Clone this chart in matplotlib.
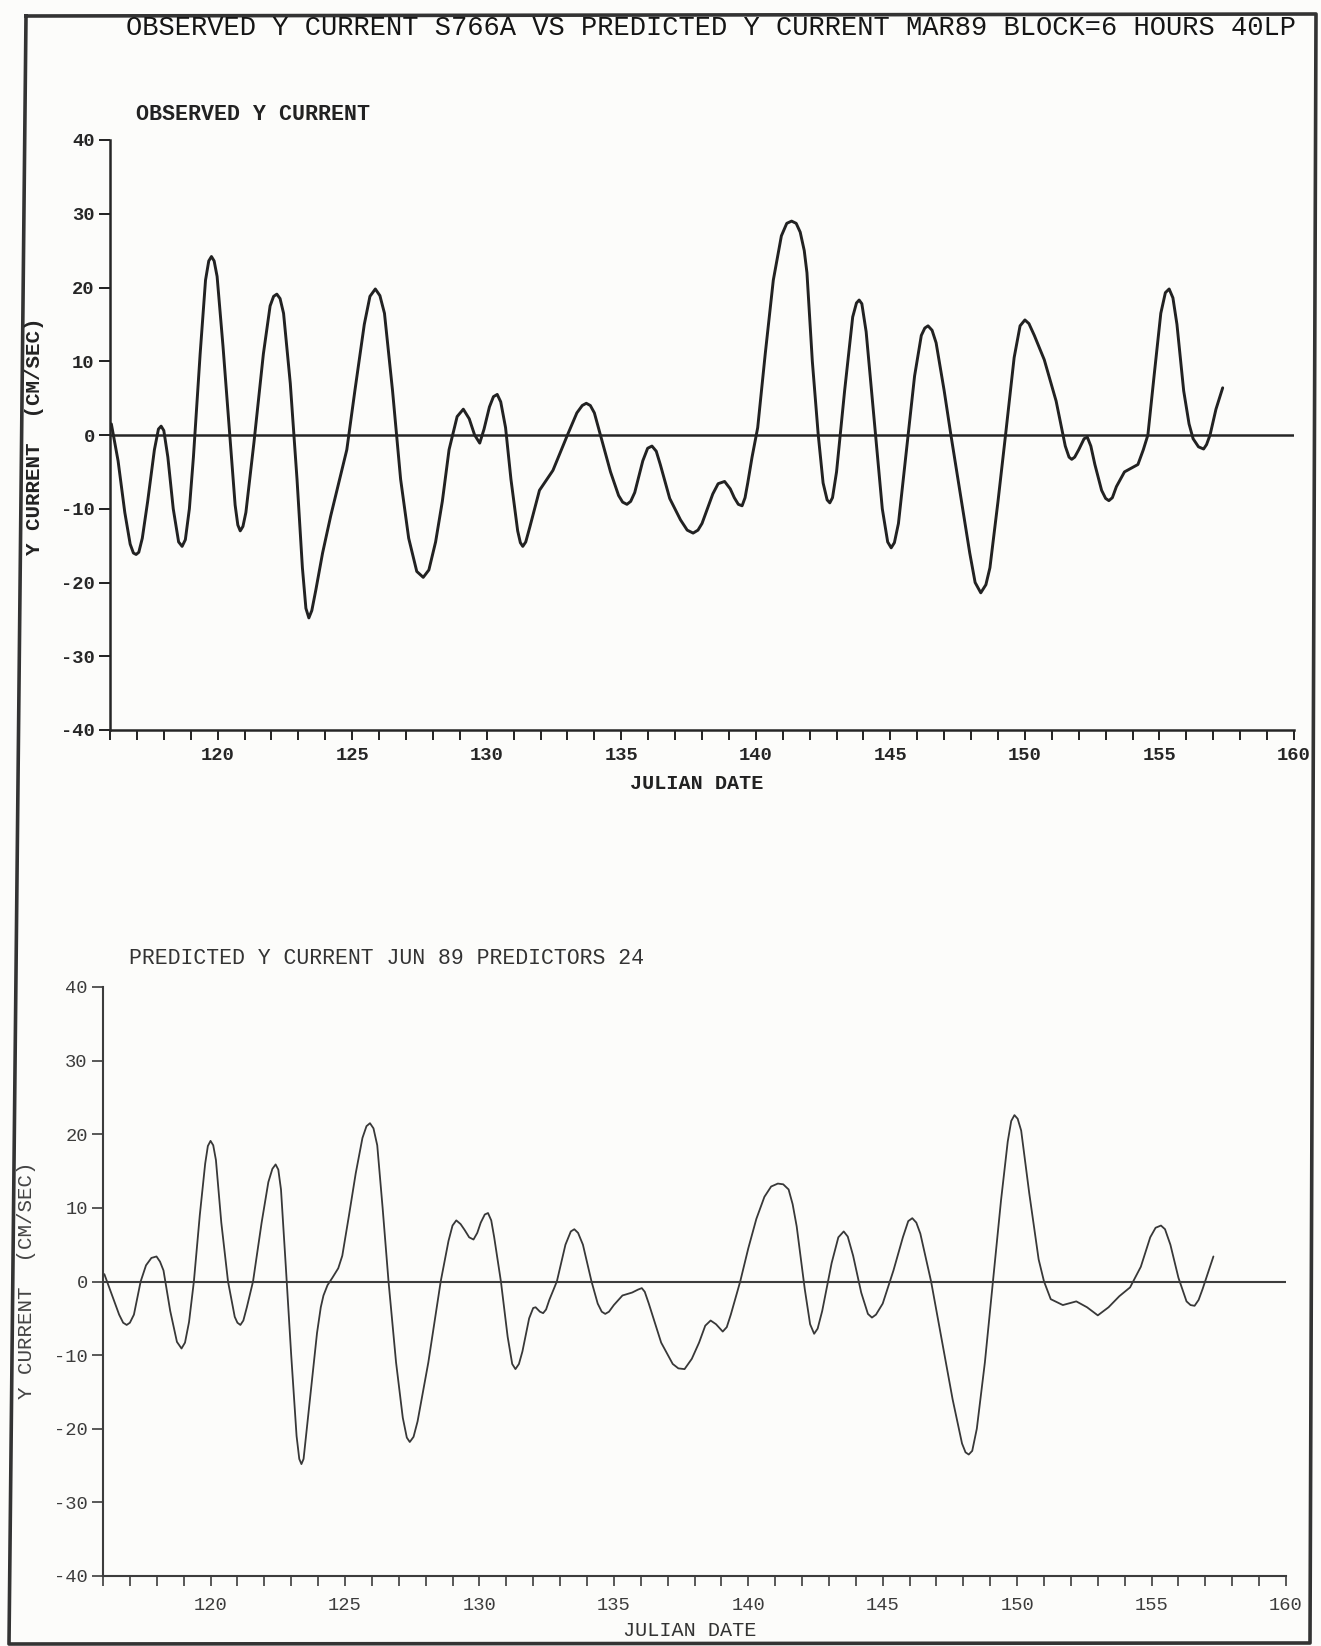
import matplotlib
matplotlib.use("Agg")
import matplotlib.pyplot as plt
from matplotlib.ticker import MultipleLocator, FuncFormatter
from matplotlib.lines import Line2D

plt.rcParams["font.family"] = ["Liberation Mono", "DejaVu Sans Mono"]
plt.rcParams["axes.unicode_minus"] = False

# Observed Y current (cm/s) vs Julian date
obs_day = [
    116.05, 116.3, 116.55, 116.75, 116.87, 116.97, 117.07, 117.2, 117.4, 117.65,
    117.8, 117.9, 118.0, 118.15, 118.35, 118.55, 118.68, 118.8, 118.95, 119.1,
    119.35, 119.55, 119.67, 119.77, 119.87, 119.98, 120.2, 120.45, 120.65, 120.75,
    120.84, 120.94, 121.05, 121.35, 121.7, 121.95, 122.08, 122.2, 122.32, 122.45,
    122.7, 122.95, 123.15, 123.28, 123.39, 123.5, 123.65, 123.9, 124.2, 124.5,
    124.8, 125.1, 125.45, 125.66, 125.86, 126.03, 126.2, 126.5, 126.8, 127.1,
    127.4, 127.64, 127.85, 128.1, 128.35, 128.6, 128.9, 129.13, 129.35, 129.55,
    129.74, 129.9, 130.1, 130.25, 130.39, 130.52, 130.7, 130.9, 131.15, 131.25,
    131.34, 131.45, 131.6, 131.96, 132.46, 133.0, 133.35, 133.55, 133.7, 133.85,
    134.0, 134.3, 134.6, 134.9, 135.05, 135.21, 135.35, 135.5, 135.8, 135.98,
    136.14, 136.3, 136.45, 136.8, 137.2, 137.45, 137.67, 137.85, 138.0, 138.2,
    138.4, 138.6, 138.84, 139.05, 139.2, 139.35, 139.49, 139.6, 139.7, 139.86,
    140.07, 140.35, 140.65, 140.95, 141.15, 141.33, 141.5, 141.65, 141.8, 141.9,
    142.1, 142.32, 142.5, 142.65, 142.75, 142.85, 143.0, 143.3, 143.6, 143.74,
    143.84, 143.94, 144.1, 144.4, 144.7, 144.9, 145.03, 145.15, 145.3, 145.6,
    145.9, 146.15, 146.28, 146.4, 146.55, 146.7, 147.0, 147.25, 147.6, 147.95,
    148.15, 148.36, 148.55, 148.7, 149.0, 149.28, 149.6, 149.82, 150.0, 150.15,
    150.35, 150.72, 151.16, 151.5, 151.64, 151.74, 151.85, 152.0, 152.2, 152.32,
    152.45, 152.6, 152.85, 153.0, 153.12, 153.25, 153.4, 153.7, 154.2, 154.4,
    154.57, 154.8, 155.05, 155.22, 155.36, 155.5, 155.65, 155.9, 156.1, 156.25,
    156.45, 156.64, 156.75, 156.88, 157.1, 157.35,
]
obs_val = [
    1.5, -3.5, -10.5, -14.8, -16.0, -16.2, -15.9, -14.0, -9.0, -2.0,
    0.8, 1.2, 0.6, -3.0, -10.0, -14.5, -15.1, -14.2, -10.0, -3.0,
    11.0, 21.0, 23.6, 24.2, 23.6, 21.5, 12.0, 0.0, -9.5, -12.2,
    -13.0, -12.4, -10.5, -1.0, 11.0, 17.5, 18.8, 19.1, 18.5, 16.5,
    7.0, -6.0, -18.0, -23.5, -24.8, -23.8, -21.0, -16.0, -11.0, -6.5,
    -2.0, 6.0, 15.0, 18.8, 19.8, 18.9, 16.5, 6.0, -6.0, -14.0,
    -18.5, -19.3, -18.3, -14.5, -9.0, -2.0, 2.5, 3.5, 2.2, 0.0,
    -1.1, 0.8, 3.8, 5.2, 5.5, 4.5, 1.0, -6.0, -13.0, -14.6,
    -15.1, -14.5, -12.5, -7.5, -4.8, 0.0, 3.0, 4.0, 4.3, 4.0,
    3.0, -1.0, -5.0, -8.2, -9.1, -9.4, -9.0, -7.8, -3.5, -1.8,
    -1.5, -2.2, -4.0, -8.6, -11.5, -12.9, -13.3, -12.9, -12.0, -10.0,
    -8.0, -6.6, -6.3, -7.3, -8.5, -9.4, -9.6, -8.5, -6.5, -3.0,
    1.0, 11.0, 21.0, 27.0, 28.7, 29.0, 28.7, 27.5, 25.0, 22.0,
    10.0, 0.0, -6.5, -8.8, -9.2, -8.5, -5.0, 6.0, 16.0, 17.9,
    18.3, 17.8, 14.0, 2.0, -10.0, -14.5, -15.3, -14.6, -12.0, -2.0,
    8.0, 13.5, 14.5, 14.8, 14.2, 12.5, 6.0, 0.0, -8.0, -16.0,
    -20.0, -21.4, -20.3, -18.0, -9.0, 0.0, 10.5, 14.8, 15.6, 15.1,
    13.5, 10.2, 4.6, -1.5, -3.0, -3.3, -3.0, -2.0, -0.5, -0.3,
    -1.5, -4.0, -7.5, -8.6, -8.9, -8.5, -7.0, -5.0, -4.0, -2.0,
    0.0, 8.0, 16.5, 19.3, 19.8, 18.6, 15.0, 6.0, 1.5, -0.5,
    -1.6, -1.9, -1.3, 0.0, 3.5, 6.4,
]

# Predicted Y current (cm/s) vs Julian date
pred_day = [
    116.05, 116.3, 116.6, 116.75, 116.88, 117.0, 117.15, 117.4, 117.6, 117.8,
    117.99, 118.12, 118.25, 118.5, 118.75, 118.92, 119.05, 119.2, 119.38, 119.6,
    119.8, 119.9, 120.0, 120.1, 120.2, 120.4, 120.65, 120.9, 121.0, 121.11,
    121.22, 121.35, 121.58, 121.9, 122.15, 122.3, 122.42, 122.52, 122.62, 122.8,
    123.0, 123.2, 123.3, 123.38, 123.46, 123.55, 123.75, 123.96, 124.1, 124.2,
    124.35, 124.53, 124.75, 124.9, 125.15, 125.4, 125.65, 125.8, 125.93, 126.06,
    126.2, 126.4, 126.62, 126.9, 127.15, 127.3, 127.41, 127.55, 127.7, 128.1,
    128.56, 128.85, 129.0, 129.14, 129.3, 129.45, 129.62, 129.78, 129.92, 130.05,
    130.2, 130.32, 130.44, 130.55, 130.8, 131.05, 131.22, 131.34, 131.47, 131.6,
    131.85, 132.0, 132.09, 132.25, 132.37, 132.48, 132.6, 132.88, 133.2, 133.4,
    133.53, 133.67, 133.85, 134.17, 134.4, 134.55, 134.68, 134.82, 135.0, 135.32,
    135.68, 135.9, 136.04, 136.15, 136.3, 136.76, 137.19, 137.4, 137.63, 137.9,
    138.17, 138.4, 138.6, 138.8, 139.05, 139.2, 139.35, 139.7, 140.0, 140.3,
    140.6, 140.85, 141.1, 141.3, 141.5, 141.65, 141.8, 142.1, 142.3, 142.45,
    142.58, 142.75, 143.1, 143.35, 143.55, 143.7, 143.9, 144.2, 144.45, 144.6,
    144.75, 145.0, 145.4, 145.75, 145.95, 146.1, 146.25, 146.4, 146.8, 147.2,
    147.6, 147.95, 148.08, 148.2, 148.33, 148.5, 148.8, 149.1, 149.4, 149.65,
    149.78, 149.9, 150.02, 150.15, 150.45, 150.8, 151.0, 151.25, 151.7, 152.2,
    152.6, 153.0, 153.4, 153.8, 154.2, 154.6, 154.95, 155.15, 155.35, 155.5,
    155.7, 156.0, 156.3, 156.45, 156.6, 156.75, 156.9, 157.3,
]
pred_val = [
    1.0, -1.5, -4.5, -5.6, -5.9, -5.6, -4.5, 0.0, 2.2, 3.2,
    3.4, 2.7, 1.5, -4.0, -8.2, -9.1, -8.3, -5.5, 0.0, 9.0,
    16.0, 18.4, 19.1, 18.5, 16.5, 8.0, 0.0, -4.8, -5.6, -5.9,
    -5.3, -3.5, 0.0, 8.0, 13.5, 15.3, 15.9, 15.2, 12.5, 2.0,
    -10.0, -21.0, -24.1, -24.8, -24.1, -21.0, -14.0, -7.0, -3.5, -1.9,
    -0.5, 0.5, 1.8, 3.5, 9.0, 14.7, 19.5, 21.1, 21.5, 20.8,
    18.5, 10.0, 0.0, -11.0, -18.5, -21.2, -21.8, -21.1, -19.0, -11.0,
    0.0, 5.5, 7.6, 8.3, 7.8, 7.0, 6.0, 5.7, 6.6, 8.0,
    9.1, 9.3, 8.3, 6.0, 0.0, -7.5, -11.2, -11.9, -11.2, -9.5,
    -5.0, -3.6, -3.5, -4.1, -4.3, -3.8, -2.5, 0.0, 5.0, 6.8,
    7.1, 6.6, 5.0, 0.0, -3.0, -4.1, -4.4, -4.1, -3.2, -1.9,
    -1.5, -1.1, -0.9, -1.4, -3.0, -8.3, -11.2, -11.8, -11.9, -10.5,
    -8.3, -6.0, -5.3, -5.8, -6.8, -6.2, -4.5, 0.0, 4.5, 8.5,
    11.5, 12.9, 13.3, 13.2, 12.5, 10.5, 7.5, -1.0, -5.8, -7.1,
    -6.4, -4.0, 2.5, 6.0, 6.8, 6.1, 3.5, -1.5, -4.4, -4.9,
    -4.5, -3.0, 1.5, 6.0, 8.2, 8.6, 8.0, 6.5, 0.0, -8.0,
    -16.0, -22.0, -23.2, -23.5, -23.0, -20.0, -11.0, 0.0, 11.0, 19.0,
    21.8, 22.6, 22.1, 20.5, 12.0, 3.0, 0.0, -2.4, -3.2, -2.7,
    -3.5, -4.6, -3.5, -2.0, -0.8, 2.0, 6.0, 7.3, 7.6, 7.1,
    5.0, 0.5, -2.7, -3.2, -3.3, -2.5, -1.0, 3.4,
]

W, H = 1321, 1646
fig = plt.figure(figsize=(W / 100, H / 100), dpi=100)
fig.patch.set_facecolor("#fcfcfa")


def px_rect(left, top, right, bottom):
    return [left / W, 1 - bottom / H, (right - left) / W, (bottom - top) / H]


def fx(x):
    return x / W


def fy(y):
    return 1 - y / H


def setup(ax, ink, weight, lw, label_size, xpad):
    ax.set_facecolor("none")
    ax.set_xlim(116, 160)
    ax.set_ylim(-40, 40)
    for side in ("top", "right"):
        ax.spines[side].set_visible(False)
    for side in ("left", "bottom"):
        ax.spines[side].set_color(ink)
        ax.spines[side].set_linewidth(lw)
    ax.xaxis.set_major_locator(MultipleLocator(5))
    ax.xaxis.set_minor_locator(MultipleLocator(1))
    ax.yaxis.set_major_locator(MultipleLocator(10))
    fmt = FuncFormatter(lambda v, p: f"{v:.0f}")
    ax.xaxis.set_major_formatter(fmt)
    ax.yaxis.set_major_formatter(fmt)
    ax.tick_params(axis="both", which="both", direction="out", color=ink,
                   width=lw * 0.8, labelcolor=ink, labelsize=label_size)
    ax.tick_params(axis="x", which="major", length=7, pad=xpad)
    ax.tick_params(axis="x", which="minor", length=7)
    ax.tick_params(axis="y", which="major", length=8, pad=3)
    for t in ax.get_xticklabels() + ax.get_yticklabels():
        t.set_fontweight(weight)
    ax.axhline(0, color=ink, lw=lw, zorder=1)


# Upper panel: observed
ax1 = fig.add_axes(px_rect(110, 140, 1294, 730))
setup(ax1, "#262626", "bold", 1.8, 13.5, 5)
ax1.plot(obs_day, obs_val, color="#222222", lw=2.1, solid_joinstyle="round",
         solid_capstyle="round", zorder=3)

# Lower panel: predicted
ax2 = fig.add_axes(px_rect(103, 987, 1286, 1576))
setup(ax2, "#3c3c3c", "normal", 1.5, 13.5, 8)
ax2.plot(pred_day, pred_val, color="#383838", lw=1.3, solid_joinstyle="round",
         solid_capstyle="round", zorder=3)

# Headings and axis titles
fig.text(fx(126), fy(28), "OBSERVED Y CURRENT S766A VS PREDICTED Y CURRENT MAR89 BLOCK=6 HOURS 40LP",
         fontsize=19.5, color="#151515", ha="left", va="center")
fig.text(fx(136), fy(115), "OBSERVED Y CURRENT", fontsize=15.6, fontweight="bold",
         color="#222222", ha="left", va="center")
fig.text(fx(697), fy(784), "JULIAN DATE", fontsize=14.5, fontweight="bold",
         color="#222222", ha="center", va="center")
fig.text(fx(35), fy(436), "Y CURRENT  (CM/SEC)", fontsize=15, fontweight="bold",
         color="#222222", ha="center", va="center", rotation=90)

fig.text(fx(129), fy(959), "PREDICTED Y CURRENT JUN 89 PREDICTORS 24", fontsize=15.5,
         color="#333333", ha="left", va="center")
fig.text(fx(690), fy(1631), "JULIAN DATE", fontsize=14.5, color="#333333",
         ha="center", va="center")
fig.text(fx(27), fy(1280), "Y CURRENT  (CM/SEC)", fontsize=15, color="#444444",
         ha="center", va="center", rotation=90)

# Page frame
corners = [(26, 16), (1316, 14), (1310, 1643), (9, 1644), (26, 16)]
fig.add_artist(Line2D([fx(c[0]) for c in corners], [fy(c[1]) for c in corners],
                      color="#333333", lw=2.6, transform=fig.transFigure))

fig.savefig("out.png", dpi=100, facecolor=fig.get_facecolor())
